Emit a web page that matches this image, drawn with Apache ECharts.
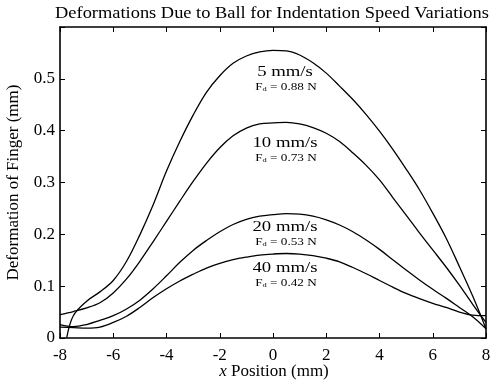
<!DOCTYPE html>
<html>
<head>
<meta charset="utf-8">
<script src="https://cdn.jsdelivr.net/npm/echarts@6/dist/echarts.min.js"></script>
<style>
  html, body { margin: 0; padding: 0; background: #fff; }
  #main { width: 492px; height: 383px; }
</style>
</head>
<body>
<div id="main"></div>
<script>
// x positions (mm) shared by most curves
var xPos = [-8, -7.5, -7, -6.5, -6, -5.5, -5, -4.5, -4, -3.5, -3, -2.5, -2, -1.5, -1, -0.5,
            0, 0.5, 1, 1.5, 2, 2.5, 3, 3.5, 4, 4.5, 5, 5.5, 6, 6.5, 7, 7.5, 8];
// the 5 mm/s curve starts a bit inside the axis
var xPos5 = [-7.75, -7.5, -7, -6.5, -6, -5.5, -5, -4.5, -4, -3.5, -3, -2.5, -2, -1.5, -1, -0.5,
             0, 0.5, 1, 1.5, 2, 2.5, 3, 3.5, 4, 4.5, 5, 5.5, 6, 6.5, 7, 7.5, 8];

var def5 = [0, 0.043, 0.071, 0.089, 0.111, 0.148, 0.199, 0.257, 0.322, 0.379, 0.430, 0.474, 0.506, 0.530, 0.544, 0.552,
            0.555, 0.554, 0.546, 0.531, 0.511, 0.486, 0.460, 0.431, 0.399, 0.364, 0.326, 0.286, 0.241, 0.193, 0.138, 0.081, 0.018];
var def10 = [0.045, 0.051, 0.058, 0.068, 0.087, 0.114, 0.148, 0.186, 0.225, 0.264, 0.302, 0.337, 0.367, 0.390, 0.405, 0.413,
             0.415, 0.416, 0.413, 0.406, 0.395, 0.379, 0.357, 0.333, 0.305, 0.271, 0.237, 0.203, 0.170, 0.137, 0.102, 0.065, 0.030];
var def20 = [0.026, 0.022, 0.026, 0.034, 0.043, 0.056, 0.073, 0.095, 0.120, 0.146, 0.169, 0.188, 0.205, 0.219, 0.229, 0.235,
             0.238, 0.240, 0.239, 0.235, 0.228, 0.218, 0.205, 0.189, 0.171, 0.151, 0.131, 0.112, 0.094, 0.077, 0.059, 0.041, 0.018];
var def40 = [0.021, 0.020, 0.019, 0.021, 0.030, 0.042, 0.059, 0.078, 0.095, 0.110, 0.123, 0.135, 0.144, 0.151, 0.156, 0.160,
             0.162, 0.163, 0.162, 0.159, 0.154, 0.147, 0.136, 0.124, 0.111, 0.098, 0.086, 0.076, 0.067, 0.059, 0.050, 0.044, 0.043];

var speeds = ['5 mm/s', '10 mm/s', '20 mm/s', '40 mm/s'];
var forces = ['0.88', '0.73', '0.53', '0.42'];
var labelTop = [72, 143, 227, 268];

var serif = '"Liberation Serif", "DejaVu Serif", serif';

function pairs(xs, ys) {
    var out = [];
    for (var i = 0; i < xs.length; i++) {
        out.push([xs[i], ys[i]]);
    }
    return out;
}

var curves = [pairs(xPos5, def5), pairs(xPos, def10), pairs(xPos, def20), pairs(xPos, def40)];

var series = [];
for (var i = 0; i < curves.length; i++) {
    series.push({
        name: speeds[i],
        type: 'line',
        data: curves[i],
        smooth: 0.35,
        showSymbol: false,
        lineStyle: { color: '#000', width: 1.3 },
        silent: true
    });
}

// title drawn as graphic text so it can be stretched a bit like the original
var graphics = [{
    type: 'text',
    x: 272,
    y: 14,
    scaleX: 1.15,
    style: {
        text: 'Deformations Due to Ball for Indentation Speed Variations',
        fill: '#000',
        font: '16px ' + serif,
        textAlign: 'center',
        textVerticalAlign: 'middle'
    }
}, {
    // x axis title
    type: 'text',
    x: 274,
    y: 372,
    style: {
        text: '{i|x}{n| Position (mm)}',
        textAlign: 'center',
        textVerticalAlign: 'middle',
        rich: {
            i: { fontSize: 17, fontFamily: serif, fontStyle: 'italic', fill: '#000' },
            n: { fontSize: 17, fontFamily: serif, fill: '#000' }
        }
    }
}];
for (var j = 0; j < speeds.length; j++) {
    graphics.push({
        type: 'text',
        x: 285,
        y: labelTop[j],
        scaleX: 1.25,
        style: {
            text: speeds[j],
            fill: '#000',
            font: '15px ' + serif,
            textAlign: 'center',
            textVerticalAlign: 'middle'
        }
    });
    graphics.push({
        type: 'text',
        x: 286,
        y: labelTop[j] + 15,
        scaleX: 1.2,
        style: {
            text: '{a|F}{s|d}{a| = ' + forces[j] + ' N}',
            textAlign: 'center',
            textVerticalAlign: 'middle',
            rich: {
                a: { fontSize: 11, fontFamily: serif, fill: '#000' },
                s: { fontSize: 7, fontFamily: serif, fill: '#000', padding: [5, 0, 0, 0] }
            }
        }
    });
}

var axisCommon = {
    axisLine: { show: true, onZero: false, lineStyle: { color: '#000', width: 1.6 } },
    axisTick: { show: true, inside: true, length: 5, lineStyle: { color: '#000', width: 1 } },
    splitLine: { show: false }
};

var myChart = echarts.init(document.getElementById('main'));
var option = {
    animation: false,
    backgroundColor: '#fff',
    grid: { left: 60, right: 6, top: 27, bottom: 45, outerBoundsMode: 'none', containLabel: false },
    xAxis: [
        Object.assign({
            type: 'value', min: -8, max: 8, interval: 2, position: 'bottom',
            axisLabel: { fontFamily: serif, fontSize: 17, color: '#000', margin: 9 }
        }, axisCommon),
        Object.assign({
            type: 'value', min: -8, max: 8, interval: 2, position: 'top',
            axisLabel: { show: false }
        }, axisCommon)
    ],
    yAxis: [
        Object.assign({
            type: 'value', min: 0, max: 0.6, interval: 0.1, position: 'left',
            name: 'Deformation of Finger (mm)',
            nameLocation: 'middle',
            nameGap: 38,
            nameTextStyle: { fontFamily: serif, fontSize: 17, color: '#000' },
            axisLabel: {
                fontFamily: serif, fontSize: 17, color: '#000', margin: 5,
                formatter: function (v) { return v > 0.55 ? '' : String(Math.round(v * 10) / 10); }
            }
        }, axisCommon),
        Object.assign({
            type: 'value', min: 0, max: 0.6, interval: 0.1, position: 'right',
            axisLabel: { show: false }
        }, axisCommon)
    ],
    series: series,
    graphic: graphics
};

myChart.setOption(option);
</script>
</body>
</html>
